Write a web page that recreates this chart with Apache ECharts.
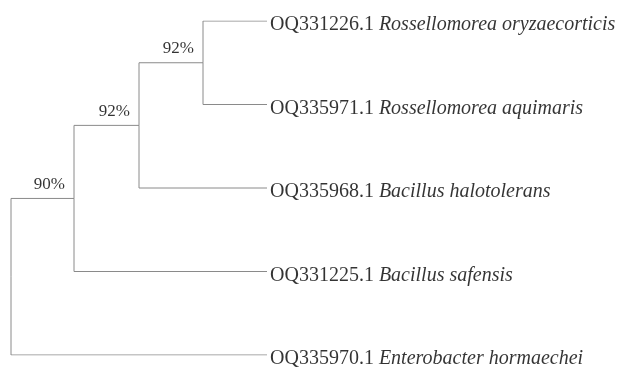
<!DOCTYPE html>
<html>
<head>
<meta charset="utf-8">
<script src="https://cdn.jsdelivr.net/npm/echarts@6/dist/echarts.min.js"></script>
<style>html,body{margin:0;padding:0;background:#fff;}#c{width:619px;height:368px;}</style>
</head>
<body>
<div id="c"></div>
<script>
// Leaves (top to bottom)
var leafIds = ['OQ331226.1', 'OQ335971.1', 'OQ335968.1', 'OQ331225.1', 'OQ335970.1'];
var leafSpecies = ['Rossellomorea oryzaecorticis', 'Rossellomorea aquimaris', 'Bacillus halotolerans', 'Bacillus safensis', 'Enterobacter hormaechei'];
var leafDepth = [256, 256, 256, 256, 256];
// Internal nodes
var nodeNames = ['root', 'n3', 'n2', 'n1'];
var nodeDepth = [0, 63, 128, 192];
var nodeSupport = [null, '90%', '92%', '92%'];
// children: 'L#' = leaf index, 'N#' = internal node index
var nodeChildren = [['N1', 'L4'], ['N2', 'L3'], ['N3', 'L2'], ['L0', 'L1']];

// compute y of nodes (leaf order index; internal = mean of children)
var nodeY = [];
function yOf(ref) {
  var i = +ref.slice(1);
  if (ref[0] === 'L') return i;
  if (nodeY[i] === undefined) {
    var ch = nodeChildren[i];
    nodeY[i] = (yOf(ch[0]) + yOf(ch[ch.length - 1])) / 2;
  }
  return nodeY[i];
}
function xOf(ref) {
  var i = +ref.slice(1);
  return ref[0] === 'L' ? leafDepth[i] : nodeDepth[i];
}
for (var k = 0; k < nodeNames.length; k++) yOf('N' + k);

var edges = [];
nodeChildren.forEach(function (ch, i) {
  ch.forEach(function (c) {
    edges.push({coords: [[nodeDepth[i], nodeY[i]], [nodeDepth[i], yOf(c)], [xOf(c), yOf(c)]]});
  });
});

var leafPts = leafIds.map(function (id, i) {
  return {value: [leafDepth[i], i], id: id, sp: leafSpecies[i]};
});
var supPts = [];
nodeNames.forEach(function (n, i) {
  if (nodeSupport[i]) supPts.push({value: [nodeDepth[i], nodeY[i]], name: nodeSupport[i]});
});

var chart = echarts.init(document.getElementById('c'), null, {renderer: 'canvas'});
chart.setOption({
  backgroundColor: '#fff',
  animation: false,
  grid: {left: 11, top: 21, width: 256, height: 334},
  xAxis: {type: 'value', min: 0, max: 256, show: false},
  yAxis: {type: 'value', min: 0, max: 4, inverse: true, show: false},
  series: [
    {
      type: 'lines',
      coordinateSystem: 'cartesian2d',
      polyline: true,
      silent: true,
      lineStyle: {color: '#8a8a8a', width: 1, opacity: 1},
      data: edges
    },
    {
      type: 'scatter',
      symbolSize: 0,
      silent: true,
      data: leafPts,
      label: {
        show: true,
        position: 'right',
        distance: 3,
        offset: [0, 4],
        color: '#000',
        formatter: function (p) { return '{a|' + p.data.id + ' }{b|' + p.data.sp + '}'; },
        rich: {
          a: {fontFamily: 'Liberation Serif', fontSize: 20, color: '#000'},
          b: {fontFamily: 'Liberation Serif', fontSize: 20, fontStyle: 'italic', color: '#000'}
        }
      }
    },
    {
      type: 'scatter',
      symbolSize: 0,
      silent: true,
      data: supPts,
      label: {
        show: true,
        position: 'left',
        distance: 9,
        offset: [0, -14],
        formatter: '{b}',
        fontFamily: 'Liberation Serif',
        fontSize: 17,
        color: '#000'
      }
    }
  ]
});
</script>
</body>
</html>
